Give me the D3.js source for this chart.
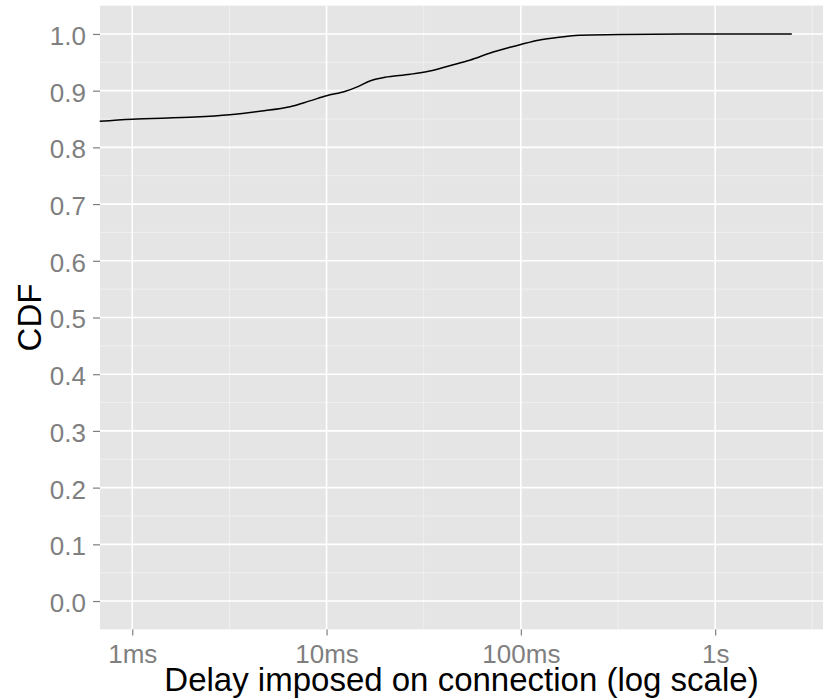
<!DOCTYPE html>
<html>
<head>
<meta charset="utf-8">
<script src="https://cdn.jsdelivr.net/npm/d3@7"></script>
<style>
  body { margin: 0; background: #fff; }
  text { font-family: "Liberation Sans", Arial, Helvetica, sans-serif; }
</style>
</head>
<body>
<svg width="823" height="699"></svg>
<script>
// delay in seconds, CDF value
const delays = [0.00068, 0.001, 0.0021, 0.00318, 0.00465, 0.00649, 0.0082, 0.010, 0.0124, 0.0145,
  0.0167, 0.020, 0.0269, 0.034, 0.043, 0.055, 0.069, 0.088, 0.100, 0.125, 0.150, 0.201, 0.324, 0.8, 2.48]
const cdf = [0.846, 0.8496, 0.8536, 0.8577, 0.8642, 0.8718, 0.8820, 0.8910, 0.8985, 0.9071,
  0.9171, 0.9236, 0.9289, 0.9347, 0.9441, 0.9541, 0.966, 0.9765, 0.9815, 0.9894, 0.9933, 0.9977, 0.9989, 1.0, 1.0]

const xTicks = [0.001, 0.01, 0.1, 1]
const xTickLabels = ["1ms", "10ms", "100ms", "1s"]
const xMinor = [Math.pow(10, -2.5), Math.pow(10, -1.5), Math.pow(10, -0.5), Math.pow(10, 0.5)]
const yTicks = [0, 0.1, 0.2, 0.3, 0.4, 0.5, 0.6, 0.7, 0.8, 0.9, 1.0]
const yMinor = [0.05, 0.15, 0.25, 0.35, 0.45, 0.55, 0.65, 0.75, 0.85, 0.95]

const svg = d3.select("svg"),
margin = {top: 5.6, right: 0, bottom: 69.6, left: 100},
width = +svg.attr("width") - margin.left - margin.right,
height = +svg.attr("height") - margin.top - margin.bottom

const x = d3.scaleLog()
.domain([Math.pow(10, -3.166), Math.pow(10, 0.555)])
.range([0, width])

const y = d3.scaleLinear()
.domain([-0.05, 1.05])
.range([height, 0])

const g = svg
.append("g")
.attr("transform", `translate(${margin.left}, ${margin.top})`)

g.append("rect")
.attr("width", width)
.attr("height", height)
.attr("fill", "#e5e5e5")

// minor grid
g.selectAll(".ymin").data(yMinor).enter().append("line")
.attr("x1", 0).attr("x2", width)
.attr("y1", d => y(d)).attr("y2", d => y(d))
.attr("stroke", "#f2f2f2").attr("stroke-width", 0.8)

g.selectAll(".xmin").data(xMinor).enter().append("line")
.attr("y1", 0).attr("y2", height)
.attr("x1", d => x(d)).attr("x2", d => x(d))
.attr("stroke", "#f2f2f2").attr("stroke-width", 0.8)

// major grid
g.selectAll(".ymaj").data(yTicks).enter().append("line")
.attr("x1", 0).attr("x2", width)
.attr("y1", d => y(d)).attr("y2", d => y(d))
.attr("stroke", "#fff").attr("stroke-width", 1.6)

g.selectAll(".xmaj").data(xTicks).enter().append("line")
.attr("y1", 0).attr("y2", height)
.attr("x1", d => x(d)).attr("x2", d => x(d))
.attr("stroke", "#fff").attr("stroke-width", 1.6)

// axes
const xAxis = g.append("g")
.attr("transform", `translate(0, ${height})`)
.call(d3.axisBottom(x)
  .tickValues(xTicks)
  .tickFormat((d, i) => xTickLabels[i])
  .tickSize(6)
  .tickPadding(9))

const yAxis = g.append("g")
.call(d3.axisLeft(y)
  .tickValues(yTicks)
  .tickFormat(d3.format(".1f"))
  .tickSize(7)
  .tickPadding(7))

for (const ax of [xAxis, yAxis]) {
  ax.select(".domain").remove()
  ax.selectAll(".tick line").attr("stroke", "#7f7f7f").attr("stroke-width", 1.2)
  ax.selectAll(".tick text")
  .attr("fill", "#7f7f7f")
  .style("font-size", "26px")
  .style("font-family", "'Liberation Sans', Arial, sans-serif")
}
yAxis.selectAll(".tick text").attr("dy", "0.4em")

// line
const line = d3.line()
.x((d, i) => x(delays[i]))
.y(d => y(d))
.curve(d3.curveCatmullRom.alpha(0.5))

g.append("path")
.datum(cdf)
.attr("fill", "none")
.attr("stroke", "#000")
.attr("stroke-width", 1.5)
.attr("d", line)

// titles
svg.append("text")
.attr("x", margin.left + width / 2)
.attr("y", 691)
.attr("text-anchor", "middle")
.style("font-size", "33px")
.text("Delay imposed on connection (log scale)")

svg.append("text")
.attr("transform", `translate(41, ${margin.top + height / 2}) rotate(-90)`)
.attr("text-anchor", "middle")
.style("font-size", "33px")
.text("CDF")
</script>
</body>
</html>
